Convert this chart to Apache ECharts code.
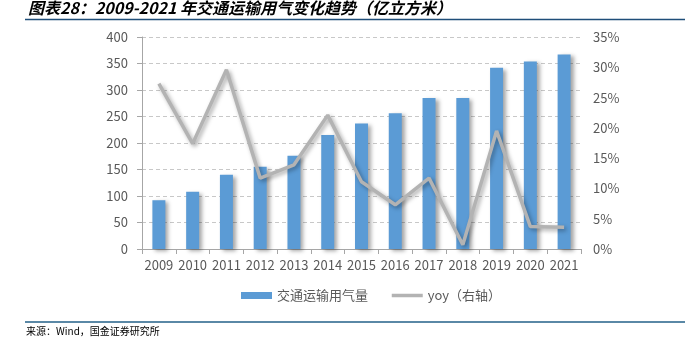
<!DOCTYPE html>
<html><head><meta charset="utf-8">
<script src="https://cdn.jsdelivr.net/npm/echarts@6/dist/echarts.min.js"></script>
<style>html,body{margin:0;padding:0;background:#fff}#c{width:694px;height:337px}</style>
</head><body><div id="c"></div>
<script>
const categories = ['2009','2010','2011','2012','2013','2014','2015','2016','2017','2018','2019','2020','2021'];
const volume = [92, 108, 140, 155, 176, 215, 237, 256, 285, 285, 342, 354, 367];
const yoy = [27.3, 17.4, 29.6, 11.7, 13.9, 22.1, 11.1, 7.3, 11.7, 0.7, 19.5, 3.7, 3.6];
const leftTicks = {min: 0, max: 400, interval: 50};
const rightTicks = {min: 0, max: 35, interval: 5};
const titleText = '图表28：2009-2021 年交通运输用气变化趋势（亿立方米）';
const sourceText = '来源：Wind，国金证券研究所';

const chart = echarts.init(document.getElementById('c'));
const labelColor = '#595959';
chart.setOption({
  animation: false,
  textStyle: {fontFamily: '"Noto Sans CJK SC", "Noto Sans", sans-serif'},
  graphic: [
    {type: 'text', left: 28, top: 0, style: {text: titleText, fill: '#000', font: 'italic bold 16px "Noto Sans CJK SC"'}},
    {type: 'line', shape: {x1: 25, y1: 19.5, x2: 685, y2: 19.5}, style: {stroke: '#1f4e79', lineWidth: 1.5}},
    {type: 'line', shape: {x1: 25, y1: 322, x2: 685, y2: 322}, style: {stroke: '#5a88a6', lineWidth: 2}},
    {type: 'text', left: 26, top: 326, style: {text: sourceText, fill: '#000', font: '10px "Noto Sans CJK SC"'}}
  ],
  grid: {left: 142, right: 113, top: 37, bottom: 88},
  legend: {
    bottom: 30, left: 236, itemGap: 22,
    textStyle: {color: labelColor, fontSize: 13},
    data: [
      {name: '交通运输用气量', icon: 'rect'},
      {name: 'yoy（右轴）', itemStyle: {opacity: 0}, lineStyle: {width: 3.5, shadowBlur: 0, shadowOffsetX: 0, shadowOffsetY: 0}}
    ],
    itemWidth: 31, itemHeight: 7
  },
  xAxis: {
    type: 'category', data: categories,
    axisLine: {lineStyle: {color: '#a6a6a6'}},
    axisTick: {show: true, length: 5, lineStyle: {color: '#a6a6a6'}},
    axisLabel: {color: labelColor, fontSize: 13, margin: 10, interval: 0}
  },
  yAxis: [
    {type: 'value', min: leftTicks.min, max: leftTicks.max, interval: leftTicks.interval,
     axisLine: {show: true, lineStyle: {color: '#a6a6a6'}},
     axisTick: {show: true, length: 5, lineStyle: {color: '#a6a6a6'}},
     axisLabel: {color: labelColor, fontSize: 13, margin: 14},
     splitLine: {lineStyle: {color: '#c8c8c8', type: [4, 3]}}},
    {type: 'value', min: rightTicks.min, max: rightTicks.max, interval: rightTicks.interval,
     axisLine: {show: false}, axisTick: {show: false},
     axisLabel: {color: labelColor, fontSize: 13, margin: 12, formatter: '{value}%'},
     splitLine: {show: false}}
  ],
  series: [
    {name: '交通运输用气量', type: 'bar', data: volume, barWidth: 13,
     itemStyle: {color: '#5b9bd5', shadowColor: 'rgba(0,0,0,0.35)', shadowBlur: 4, shadowOffsetX: 3, shadowOffsetY: 2}},
    {name: 'yoy（右轴）', type: 'line', yAxisIndex: 1, data: yoy, symbol: 'none',
     lineStyle: {color: '#b3b3b3', width: 3.5, shadowColor: 'rgba(0,0,0,0.35)', shadowBlur: 4, shadowOffsetX: 2, shadowOffsetY: 2},
     itemStyle: {color: '#b3b3b3'}}
  ]
});
</script></body></html>
